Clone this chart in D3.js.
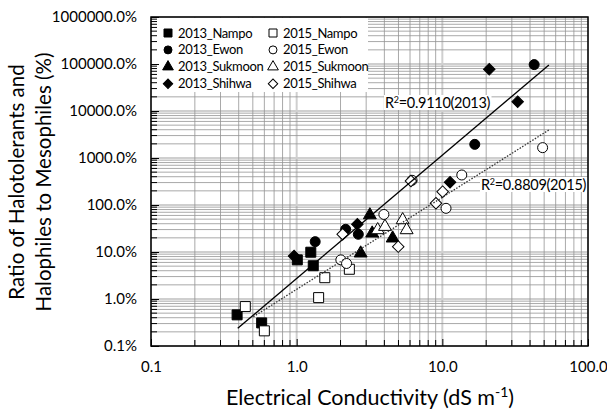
<!DOCTYPE html>
<html>
<head>
<meta charset="utf-8">
<script src="https://cdn.jsdelivr.net/npm/d3@7"></script>
<style>
  body { margin: 0; background: #fff; }
  svg { font-family: Lato, "Open Sans", sans-serif; }
</style>
</head>
<body>
<div id="viz"></div>
<script>
// EC (dS/m) vs ratio (%)
const nampo2013 = [[0.39, 0.46], [0.575, 0.31], [1.01, 6.8], [1.25, 9.9], [1.30, 5.1]];
const nampo2015 = [[0.444, 0.69], [0.60, 0.21], [1.415, 1.07], [1.56, 2.84], [2.30, 4.29]];
const ewon2013 = [[1.34, 16.6], [2.17, 30.4], [2.65, 23.8], [16.7, 1950], [42.7, 97000]];
const ewon2015 = [[2.01, 6.8], [2.20, 5.7], [3.97, 63], [6.2, 335], [10.6, 85], [13.6, 435], [48.8, 1660]];
const sukmoon2013 = [[2.75, 9.4], [3.18, 61], [3.30, 25], [4.56, 19.6]];
const sukmoon2015 = [[3.60, 29.4], [4.04, 34.6], [5.34, 48], [5.69, 29.4]];
const shihwa2013 = [[0.96, 8.2], [2.61, 38.8], [11.3, 304], [21.0, 77000], [32.9, 15800]];
const shihwa2015 = [[2.07, 23.8], [4.98, 13], [6.09, 324], [9.04, 109], [10.05, 192]];

const trend2013 = [[0.394, 0.238], [53.9, 95300]];
const trend2015 = [[0.504, 0.42], [53.9, 3950]];

const xTicks = [0.1, 1, 10, 100];
const yTicks = [0.1, 1, 10, 100, 1000, 10000, 100000, 1000000];

const series = [
  { name: '2013_Nampo', data: nampo2013, shape: 'square', fill: '#000' },
  { name: '2015_Nampo', data: nampo2015, shape: 'square', fill: '#fff' },
  { name: '2013_Ewon', data: ewon2013, shape: 'circle', fill: '#000' },
  { name: '2015_Ewon', data: ewon2015, shape: 'circle', fill: '#fff' },
  { name: '2013_Sukmoon', data: sukmoon2013, shape: 'triangle', fill: '#000' },
  { name: '2015_Sukmoon', data: sukmoon2015, shape: 'triangle', fill: '#fff' },
  { name: '2013_Shihwa', data: shihwa2013, shape: 'diamond', fill: '#000' },
  { name: '2015_Shihwa', data: shihwa2015, shape: 'diamond', fill: '#fff' }
];

let width = 607, height = 410;
let margin = { top: 17, right: 19, bottom: 64, left: 151 };

let x = d3.scaleLog().domain([0.1, 100]).range([margin.left, width - margin.right]);
let y = d3.scaleLog().domain([0.1, 1000000]).range([height - margin.bottom, margin.top]);

let svg = d3.select('#viz').append('svg')
  .attr('width', width)
  .attr('height', height);

function minors(ticks) {
  let out = [];
  for (let i = 0; i < ticks.length - 1; i++) {
    for (let k = 2; k <= 9; k++) out.push(ticks[i] * k);
  }
  return out;
}
let xMinor = minors(xTicks), yMinor = minors(yTicks);

// gridlines
let grid = svg.append('g');
grid.selectAll('.gxM').data(xTicks).enter().append('line')
  .attr('x1', d => x(d)).attr('x2', d => x(d))
  .attr('y1', y.range()[0]).attr('y2', y.range()[1])
  .attr('stroke', '#cfcfcf').attr('stroke-width', 2);
grid.selectAll('.gyM').data(yTicks).enter().append('line')
  .attr('y1', d => y(d)).attr('y2', d => y(d))
  .attr('x1', x.range()[0]).attr('x2', x.range()[1])
  .attr('stroke', '#cfcfcf').attr('stroke-width', 2);
grid.selectAll('.gx').data(xMinor).enter().append('line')
  .attr('x1', d => x(d)).attr('x2', d => x(d))
  .attr('y1', y.range()[0]).attr('y2', y.range()[1])
  .attr('stroke', '#939393').attr('stroke-width', 0.8);
grid.selectAll('.gy').data(yMinor).enter().append('line')
  .attr('y1', d => y(d)).attr('y2', d => y(d))
  .attr('x1', x.range()[0]).attr('x2', x.range()[1])
  .attr('stroke', '#939393').attr('stroke-width', 0.8);

// legend box (white, over grid)
let legend = svg.append('g');
legend.append('rect')
  .attr('x', x.range()[0] + 1).attr('y', margin.top + 1)
  .attr('width', 216).attr('height', 74)
  .attr('fill', '#fff');

function symbolPath(shape, s) {
  if (shape === 'square') return d3.symbol(d3.symbolSquare, s * s)();
  if (shape === 'circle') return d3.symbol(d3.symbolCircle, Math.PI * s * s / 4)();
  if (shape === 'triangle') return d3.symbol(d3.symbolTriangle, s * s * 0.5)();
  return d3.symbol(d3.symbolSquare, s * s * 0.55)();
}

// points
series.forEach(sr => {
  let size = sr.shape === 'triangle' ? 12 : (sr.shape === 'diamond' ? 11 : 10);
  svg.append('g').selectAll('path').data(sr.data).enter().append('path')
    .attr('d', symbolPath(sr.shape, size))
    .attr('transform', d => 'translate(' + x(d[0]) + ',' + y(d[1]) + ')' + (sr.shape === 'diamond' ? ' rotate(45)' : ''))
    .attr('fill', sr.fill)
    .attr('stroke', '#000')
    .attr('stroke-width', 1);
});

// trend lines
let line = d3.line().x(d => x(d[0])).y(d => y(d[1]));
svg.append('path').datum(trend2013).attr('d', line)
  .attr('stroke', '#000').attr('stroke-width', 1.3).attr('fill', 'none');
svg.append('path').datum(trend2015).attr('d', line)
  .attr('stroke', '#333').attr('stroke-width', 1.3).attr('stroke-dasharray', '1.5,1.5').attr('fill', 'none');

// R2 labels
function r2label(px, py, r, yr) {
  let t = svg.append('text').attr('x', px).attr('y', py)
    .attr('font-size', 14.5).attr('letter-spacing', -0.3).attr('fill', '#000');
  t.append('tspan').text('R');
  t.append('tspan').attr('font-size', 9).attr('dy', -5).text('2');
  t.append('tspan').attr('dy', 5).text('=' + r + '(' + yr + ')');
  let b = t.node().getBBox();
  svg.insert('rect', 'text').attr('x', b.x - 1).attr('y', b.y + 1)
    .attr('width', b.width + 2).attr('height', b.height - 2).attr('fill', '#fff');
}
r2label(385, 108, '0.9110', 2013);
r2label(481, 190, '0.8809', 2015);

// legend entries
series.forEach((sr, i) => {
  let col = i % 2, row = Math.floor(i / 2);
  let lx = col === 0 ? 168 : 273, ly = 33 + row * 16.9;
  let size = sr.shape === 'triangle' ? 10 : (sr.shape === 'diamond' ? 9 : 8);
  legend.append('path')
    .attr('d', symbolPath(sr.shape, size))
    .attr('transform', 'translate(' + lx + ',' + ly + ')' + (sr.shape === 'diamond' ? ' rotate(45)' : ''))
    .attr('fill', sr.fill).attr('stroke', '#000').attr('stroke-width', 1);
  legend.append('text')
    .attr('x', lx + 10).attr('y', ly).attr('dy', '0.35em')
    .attr('font-size', 13).attr('letter-spacing', -0.35).text(sr.name);
});

// frame
svg.append('rect')
  .attr('x', x.range()[0]).attr('y', y.range()[1])
  .attr('width', x.range()[1] - x.range()[0])
  .attr('height', y.range()[0] - y.range()[1])
  .attr('fill', 'none').attr('stroke', '#000').attr('stroke-width', 1.5);

// axes with inside ticks
let yAxis = d3.axisLeft(y).tickValues(yTicks).tickSize(-8).tickPadding(14)
  .tickFormat(d => d.toFixed(1) + '%');
let yGuide = svg.append('g').attr('transform', 'translate(' + x.range()[0] + ',0)').call(yAxis);
yGuide.select('.domain').remove();
yGuide.selectAll('text').attr('font-size', 15).attr('font-family', 'Lato').attr('fill', '#000');
svg.append('g').selectAll('line').data(yMinor).enter().append('line')
  .attr('x1', x.range()[0]).attr('x2', x.range()[0] + 6)
  .attr('y1', d => y(d)).attr('y2', d => y(d)).attr('stroke', '#000');

let xAxis = d3.axisBottom(x).tickValues(xTicks).tickSize(-7).tickPadding(15)
  .tickFormat(d => d.toFixed(1));
let xGuide = svg.append('g').attr('transform', 'translate(0,' + y.range()[0] + ')').call(xAxis);
xGuide.select('.domain').remove();
xGuide.selectAll('text').attr('font-size', 15).attr('font-family', 'Lato').attr('fill', '#000');
svg.append('g').selectAll('line').data(xMinor).enter().append('line')
  .attr('x1', d => x(d)).attr('x2', d => x(d))
  .attr('y1', y.range()[0]).attr('y2', y.range()[0] - 6).attr('stroke', '#000');

// axis titles
let xt = svg.append('text').attr('x', 370).attr('y', 405).attr('text-anchor', 'middle')
  .attr('font-size', 21.5);
xt.append('tspan').text('Electrical Conductivity (dS m');
xt.append('tspan').attr('font-size', 14).attr('dy', -8).text('-1');
xt.append('tspan').attr('dy', 8).text(')');

svg.append('text').attr('transform', 'translate(24,182) rotate(-90)')
  .attr('text-anchor', 'middle').attr('font-size', 20.5).text('Ratio of Halotolerants and');
svg.append('text').attr('transform', 'translate(51,182) rotate(-90)')
  .attr('text-anchor', 'middle').attr('font-size', 20.5).text('Halophiles to Mesophiles (%)');
</script>
</body>
</html>
